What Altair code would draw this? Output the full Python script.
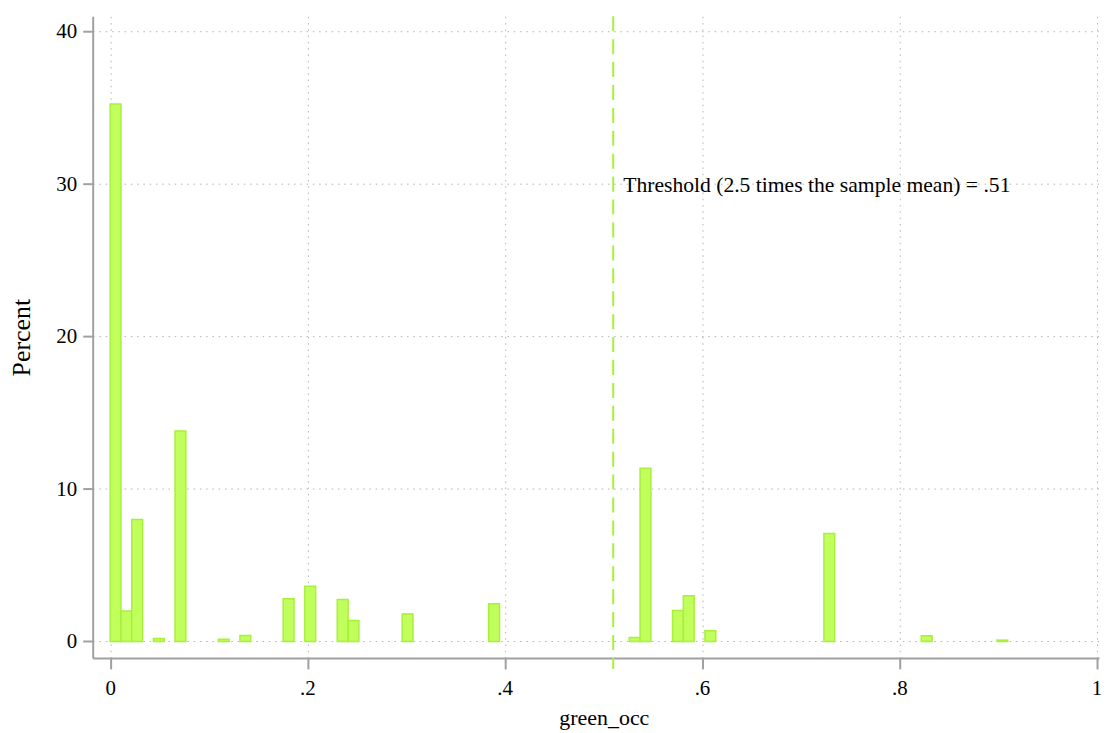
import altair as alt
import pandas as pd

# Histogram of green_occ (Stata-style)
bin_width = 0.91 / 83
bin_index = [0, 1, 2, 4, 6, 10, 12, 16, 18, 21, 22, 27, 35, 48, 49, 52, 53, 55, 66, 75, 82]
percent = [35.25, 2.0, 8.0, 0.2, 13.8, 0.15, 0.4, 2.81, 3.62, 2.75, 1.37, 1.81, 2.48,
           0.26, 11.37, 2.03, 3.0, 0.7, 7.08, 0.37, 0.09]

threshold = 0.51
threshold_label = "Threshold (2.5 times the sample mean) = .51"
threshold_label_y = 30

x_ticks = [0, 0.2, 0.4, 0.6, 0.8, 1]
x_tick_labels = ["0", ".2", ".4", ".6", ".8", "1"]
y_ticks = [0, 10, 20, 30, 40]

bars_df = pd.DataFrame({
    "lo": [i * bin_width for i in bin_index],
    "hi": [(i + 1) * bin_width for i in bin_index],
    "pct": percent,
})
thr_df = pd.DataFrame({"x": [threshold], "y": [threshold_label_y], "label": [threshold_label]})

FONT = "Liberation Serif"
W, H = 1010, 644

xscale = alt.Scale(domain=[-0.0177, 1.0025], nice=False, zero=False)
yscale = alt.Scale(domain=[-1.08, 41.01], nice=False, zero=False)

label_arr = "[" + ",".join("'" + s + "'" for s in x_tick_labels) + "]"

bars = alt.Chart(bars_df).mark_bar(
    fill="#c0ff5c", stroke="#a8f03a", strokeWidth=1.5
).encode(
    x=alt.X("lo:Q", scale=xscale,
            axis=alt.Axis(title="green_occ", values=x_ticks,
                          labelExpr=label_arr + "[round(datum.value*5)]",
                          tickSize=11, labelPadding=9, titleFontSize=22,
                          titleX=513, titleY=67, titleBaseline="alphabetic",
                          labelFontSize=21)),
    x2="hi:Q",
    y=alt.Y("pct:Q", scale=yscale,
            axis=alt.Axis(title="Percent", values=y_ticks, tickSize=10,
                          labelPadding=6, titleFontSize=26, titleX=-71, titleY=322,
                          titleBaseline="middle", titleAlign="center",
                          labelFontSize=21)),
    y2=alt.datum(0),
)

rule = alt.Chart(thr_df).mark_rule(
    color="#a8f03a", strokeWidth=2, strokeDash=[15, 8]
).encode(
    x=alt.X("x:Q", scale=xscale),
    y=alt.value(0),
    y2=alt.value(H + 11),
)

text = alt.Chart(thr_df).mark_text(
    align="left", baseline="alphabetic", dx=10, dy=8,
    font=FONT, fontSize=21.7, color="black"
).encode(
    x=alt.X("x:Q", scale=xscale),
    y=alt.Y("y:Q", scale=yscale),
    text="label:N",
)

chart = alt.layer(bars, rule, text).properties(
    width=W, height=H,
    autosize=alt.AutoSizeParams(type="none"),
    padding={"left": 85, "top": 7, "right": 4, "bottom": 71},
).configure_view(stroke=None).configure_axis(
    domainColor="#a0a0a0", domainWidth=2,
    tickColor="#a0a0a0", tickWidth=2,
    grid=True, gridColor="#b4b4b4", gridDash=[1.5, 4.8], gridWidth=1,
    labelFont=FONT, labelColor="black",
    titleFont=FONT, titleColor="black", titleFontWeight="normal",
)

chart.save("out.html", embed_options={"renderer": "svg", "actions": False})
